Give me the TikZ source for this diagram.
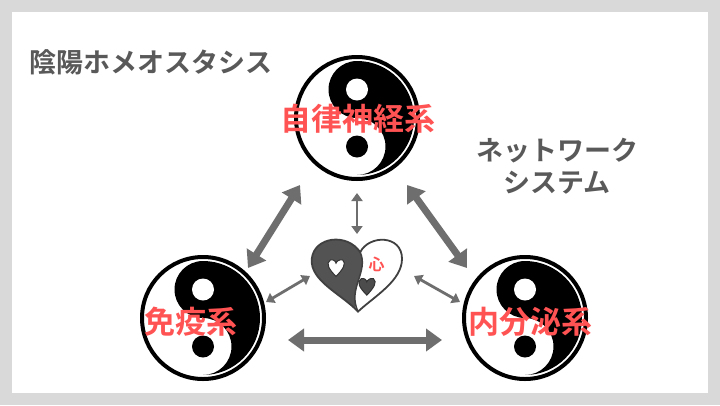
\documentclass[tikz,border=0pt]{standalone}
\usepackage{fontspec}
\newfontfamily\jp{Noto Sans CJK JP Bold}
\usetikzlibrary{arrows.meta}
\definecolor{lbl}{HTML}{FF5252}
\definecolor{arr}{HTML}{6E6E6E}
\definecolor{ttl}{HTML}{595959}
\tikzset{
 bigarr/.style={draw=arr,line width=7pt,{Triangle[length=16pt,width=22pt]}-{Triangle[length=16pt,width=22pt]}},
 smallarr/.style={draw=arr,line width=2.8pt,{Triangle[length=8pt,width=11pt]}-{Triangle[length=8pt,width=11pt]}},
 redlbl/.style={text=lbl,font=\jp\fontsize{31}{34}\selectfont},
 graylbl/.style={text=ttl,font=\jp\fontsize{27}{32}\selectfont,align=center}
}
\newcommand{\yinyang}[3]{%
 \begin{scope}[shift={(#1,#2)},yscale=-1]
 \def\r{#3}
 \fill[white] (0,0) circle[radius=\r];
 \fill[black] (0,\r-5) arc[start angle=90,end angle=-90,radius=\r-5]
   arc[start angle=-90,end angle=90,radius=(\r-5)/2]
   arc[start angle=-90,end angle=-270,radius=(\r-5)/2] -- cycle;
 \fill[white] (0,{(\r-5)/2}) circle[radius=11];
 \fill[black] (0,{-(\r-5)/2}) circle[radius=11];
 \draw[black,line width=4pt] (0,0) circle[radius=\r-1];
 \end{scope}}
\begin{document}
\begin{tikzpicture}[x=1pt,y=-1pt]
\fill[gray!30] (0,0) rectangle (720,405);
\fill[white] (12,12) rectangle (708,393);
\useasboundingbox (0,0) rectangle (720,405);
\yinyang{357}{118}{62}
\yinyang{203}{318}{62}
\yinyang{525}{318}{62}
\node[redlbl] (ans) at (358,119) {自律神経系};
\node[redlbl] (men) at (191,322) {免疫系};
\node[redlbl] (nai) at (530,322) {内分泌系};
\node[graylbl,anchor=west] (title) at (26,62) {陰陽ホメオスタシス};
\node[graylbl] (net) at (557,166) {ネットワーク\\システム};
% heart
\begin{scope}[shift={(358,272)},scale=1.1]
 \coordinate (heart) at (0,0);
 \def\heartpath{(0,36) .. controls (-15,20) and (-44,8) .. (-42,-12) .. controls (-40,-32) and (-10,-36) .. (2,-18) .. controls (10,-34) and (40,-34) .. (40,-12) .. controls (40,8) and (15,22) .. (0,36) -- cycle}
 \begin{scope}
  \clip \heartpath;
  \fill[gray!65!black] (-50,-40) -- (2,-40) -- (2,-18) .. controls (10,0) and (-10,15) .. (0,40) -- (-50,40) -- cycle;
 \end{scope}
 \draw[line width=1.8pt,black!75] \heartpath;
 \draw[line width=1.5pt,black!75] (2,-18) .. controls (10,0) and (-10,15) .. (0,36);
 \fill[white,draw=black!80,line width=1pt] (-20,4) .. controls (-26,-2) and (-30,-8) .. (-25,-11) .. controls (-22,-12) and (-20,-9) .. (-20,-8) .. controls (-20,-9) and (-17,-12) .. (-14,-11) .. controls (-10,-8) and (-14,-2) .. (-20,4) -- cycle;
 \fill[gray!60!black,draw=black!80,line width=1pt] (8,21) .. controls (2,15) and (-2,9) .. (3,6) .. controls (6,5) and (8,8) .. (8,9) .. controls (8,8) and (11,5) .. (14,6) .. controls (18,9) and (14,15) .. (8,21) -- cycle;
 \node[text=lbl,font=\jp\fontsize{16}{17}\selectfont] (kokoro) at (17,-7) {心};
\end{scope}
\coordinate (a1) at (300,185); \coordinate (b1) at (248,268);
\coordinate (a2) at (407,185); \coordinate (b2) at (467,268);
\coordinate (a3) at (288,340); \coordinate (b3) at (442,340);
\draw[bigarr] (a1) -- (b1);
\draw[bigarr] (a2) -- (b2);
\draw[bigarr] (a3) -- (b3);
\coordinate (c1) at (357,193); \coordinate (d1) at (357,234);
\coordinate (c2) at (266,302); \coordinate (d2) at (310,276);
\coordinate (c3) at (460,302); \coordinate (d3) at (414,276);
\draw[smallarr] (c1) -- (d1);
\draw[smallarr] (c2) -- (d2);
\draw[smallarr] (c3) -- (d3);
\end{tikzpicture}
\end{document}
